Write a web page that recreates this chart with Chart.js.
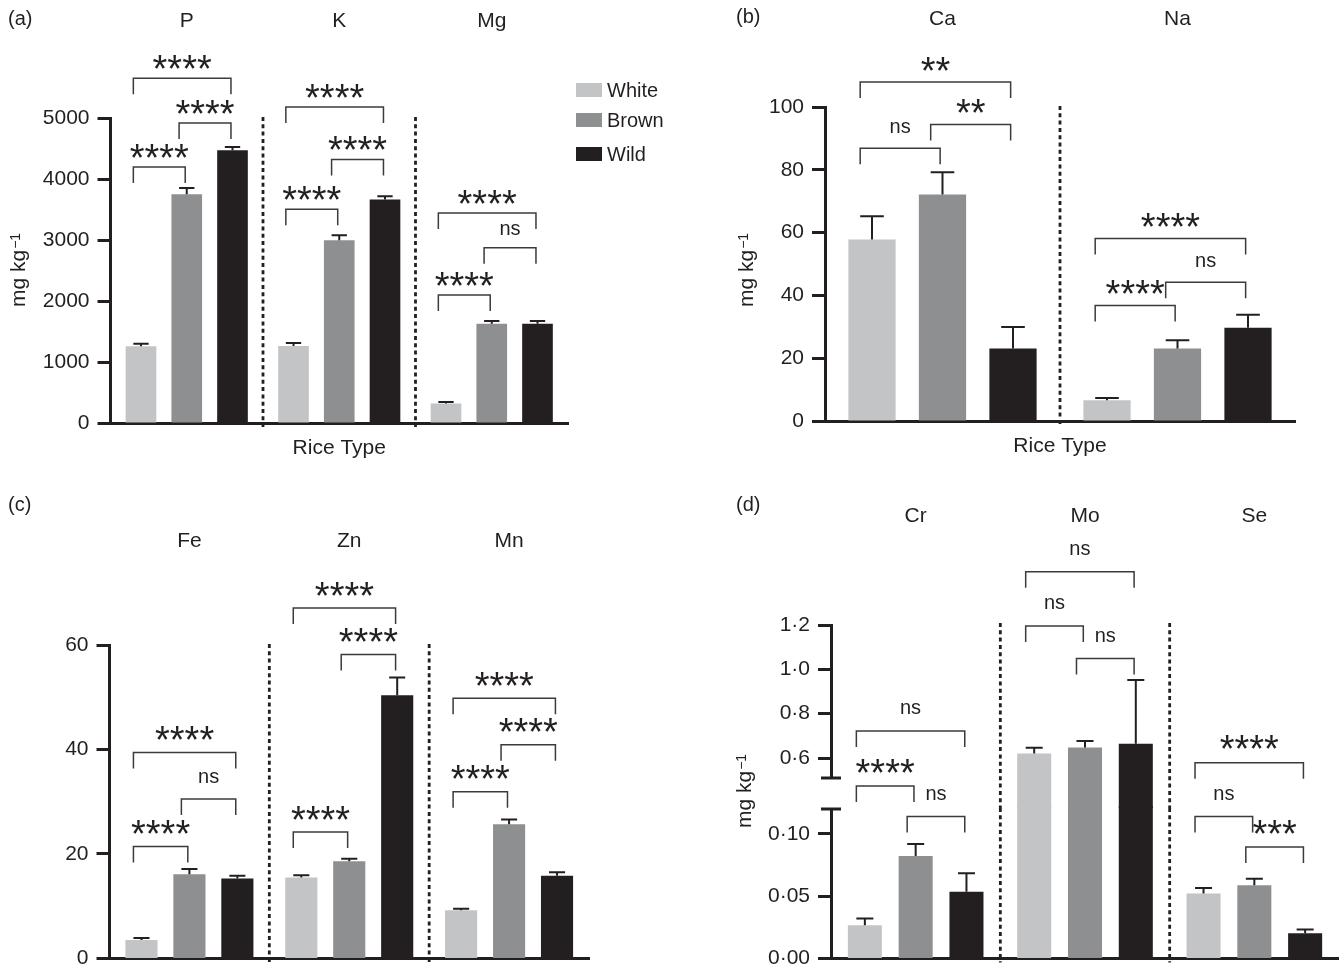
<!DOCTYPE html>
<html>
<head>
<meta charset="utf-8">
<script src="https://cdn.jsdelivr.net/npm/chart.js@4.4.1/dist/chart.umd.min.js"></script>
<style>
  html, body { margin: 0; padding: 0; background: #fff; }
  #fig { position: relative; width: 1339px; height: 979px; overflow: hidden; background: #fff; }
  #fig canvas { position: absolute; }
</style>
</head>
<body>
<div id="fig">
  <canvas id="chartA" width="670" height="480" style="left:0;top:0"></canvas>
  <canvas id="chartB" width="639" height="480" style="left:700px;top:0"></canvas>
  <canvas id="chartC" width="670" height="489" style="left:0;top:490px"></canvas>
  <canvas id="chartDlo" width="639" height="489" style="left:700px;top:490px"></canvas>
  <canvas id="chartDhi" width="639" height="318" style="left:700px;top:490px"></canvas>
</div>
<script>
const riceTypes = ["White", "Brown", "Wild"];

// (a) P, K, Mg  (mg/kg)
const elementsA = ["P", "K", "Mg"];
const whiteA = [1257, 1262, 318];
const brownA = [3749, 2995, 1629];
const wildA = [4470, 3662, 1629];
const whiteErrA = [44, 49, 26];
const brownErrA = [103, 82, 43];
const wildErrA = [55, 54, 43];
const ticksA = [0, 1000, 2000, 3000, 4000, 5000];

// (b) Ca, Na
const elementsB = ["Ca", "Na"];
const whiteB = [57.8, 6.6];
const brownB = [72.1, 23.1];
const wildB = [23.1, 29.7];
const whiteErrB = [7.4, 0.7];
const brownErrB = [7.1, 2.6];
const wildErrB = [6.8, 4.1];
const ticksB = [0, 20, 40, 60, 80, 100];

// (c) Fe, Zn, Mn
const elementsC = ["Fe", "Zn", "Mn"];
const whiteC = [3.5, 15.5, 9.2];
const brownC = [16.1, 18.6, 25.7];
const wildC = [15.3, 50.4, 15.8];
const whiteErrC = [0.4, 0.4, 0.3];
const brownErrC = [1.0, 0.5, 0.9];
const wildErrC = [0.5, 3.4, 0.7];
const ticksC = [0, 20, 40, 60];

// (d) Cr, Mo, Se  (broken axis)
const elementsD = ["Cr", "Mo", "Se"];
const whiteD = [0.0267, 0.621, 0.0522];
const brownD = [0.0822, 0.647, 0.0587];
const wildD = [0.0535, 0.665, 0.0202];
const whiteErrD = [0.0053, 0.025, 0.0044];
const brownErrD = [0.0096, 0.030, 0.0052];
const wildErrD = [0.0149, 0.287, 0.0031];
const ticksDlo = [0, 0.05, 0.10];
const ticksDhi = [0.6, 0.8, 1.0, 1.2];

// significance brackets: [category, fromBar, toBar, level, label]
const bracketsA = [
  [0, 0, 1, 4197, "****"], [0, 1, 2, 4918, "****"], [0, 0, 2, 5651, "****"],
  [1, 0, 1, 3503, "****"], [1, 1, 2, 4318, "****"], [1, 0, 2, 5180, "****"],
  [2, 0, 1, 2098, "****"], [2, 1, 2, 2875, "ns"], [2, 0, 2, 3443, "****"]
];
const bracketsB = [
  [0, 0, 1, 86.9, "ns"], [0, 1, 2, 94.4, "**"], [0, 0, 2, 108, "**"],
  [1, 0, 1, 36.8, "****"], [1, 1, 2, 44.2, "ns"], [1, 0, 2, 58.1, "****"]
];
const bracketsC = [
  [0, 0, 1, 21.4, "****"], [0, 1, 2, 30.5, "ns"], [0, 0, 2, 39.4, "****"],
  [1, 0, 1, 24.2, "****"], [1, 1, 2, 58.2, "****"], [1, 0, 2, 67.1, "****"],
  [2, 0, 1, 31.9, "****"], [2, 1, 2, 40.9, "****"], [2, 0, 2, 49.8, "****"]
];
const bracketsDhi = [
  [0, 0, 2, 0.722, "ns"], [0, 0, 1, 0.474, "****"],
  [1, 0, 1, 1.195, "ns"], [1, 1, 2, 1.049, "ns"], [1, 0, 2, 1.44, "ns"],
  [2, 0, 2, 0.579, "****"]
];
const bracketsDlo = [
  [0, 1, 2, 0.114, "ns"], [2, 0, 1, 0.114, "ns"], [2, 1, 2, 0.0895, "***"]
];

const INK = "#231f20";
const FONT = "'Liberation Sans', Arial, Helvetica, sans-serif";
const fillColors = ["#c3c4c6", "#8e8f91", "#231f20"];
const LEG = 16;

const decor = {};

// rotated "mg kg" with a raised "−1"
function drawUnitTitle(ctx, t) {
  ctx.save();
  ctx.translate(t.x, t.y);
  ctx.rotate(-Math.PI / 2);
  ctx.fillStyle = INK;
  ctx.textAlign = "left";
  ctx.textBaseline = "alphabetic";
  ctx.font = "21px " + FONT;
  ctx.fillText("mg kg", 0, 0);
  const w = ctx.measureText("mg kg").width;
  ctx.font = "14px " + FONT;
  ctx.fillText("\u22121", w + 1, -5);
  ctx.restore();
}

const panelDecor = {
  id: "panelDecor",
  afterDatasetsDraw(chart) {
    const d = decor[chart.canvas.id];
    const ctx = chart.ctx;
    const ys = chart.scales.y;
    ctx.save();
    ctx.strokeStyle = INK;
    ctx.lineWidth = 2;
    d.errors.forEach((errs, k) => {
      const meta = chart.getDatasetMeta(k);
      meta.data.forEach((bar, i) => {
        const v = chart.data.datasets[k].data[i];
        const y0 = ys.getPixelForValue(v);
        const y1 = ys.getPixelForValue(v + errs[i]);
        const cap = bar.width * 0.25;
        ctx.beginPath();
        ctx.moveTo(bar.x, y0);
        ctx.lineTo(bar.x, y1);
        ctx.moveTo(bar.x - cap, y1);
        ctx.lineTo(bar.x + cap, y1);
        ctx.stroke();
      });
    });
    ctx.restore();
  },
  afterDraw(chart) {
    const d = decor[chart.canvas.id];
    const {ctx, chartArea} = chart;
    const xs = chart.scales.x, ys = chart.scales.y;
    ctx.save();

    // dotted separators between elements
    ctx.strokeStyle = INK;
    ctx.lineWidth = 2.8;
    ctx.setLineDash([4, 3.3]);
    for (let i = 0; i < chart.data.labels.length - 1; i++) {
      const x = (xs.getPixelForValue(i) + xs.getPixelForValue(i + 1)) / 2;
      ctx.beginPath();
      ctx.moveTo(x, d.sepTop != null ? d.sepTop : chartArea.top - 1);
      ctx.lineTo(x, d.sepBottom != null ? d.sepBottom : chartArea.bottom + 4);
      ctx.stroke();
    }
    ctx.setLineDash([]);

    ctx.fillStyle = INK;
    // element names
    if (d.catY != null) {
      ctx.font = "21px " + FONT;
      ctx.textAlign = "center";
      ctx.textBaseline = "middle";
      chart.data.labels.forEach((lab, i) => ctx.fillText(lab, xs.getPixelForValue(i), d.catY));
    }
    // panel letter
    if (d.letter) {
      ctx.font = "20px " + FONT;
      ctx.textAlign = "left";
      ctx.textBaseline = "middle";
      ctx.fillText(d.letter[0], d.letter[1], d.letter[2]);
    }

    // significance brackets
    ctx.strokeStyle = "#3b3b3b";
    ctx.lineWidth = 1.5;
    (d.brackets || []).forEach(([cat, a, b, level, label]) => {
      const barA = chart.getDatasetMeta(a).data[cat];
      const barB = chart.getDatasetMeta(b).data[cat];
      const x1 = barA.x - 0.25 * barA.width;
      const x2 = barB.x - 0.05 * barB.width;
      const yy = ys.getPixelForValue(level);
      ctx.beginPath();
      ctx.moveTo(x1, yy + LEG);
      ctx.lineTo(x1, yy);
      ctx.lineTo(x2, yy);
      ctx.lineTo(x2, yy + LEG);
      ctx.stroke();
      const star = label.indexOf("*") >= 0;
      const size = star ? 38 : 20;
      ctx.font = size + "px " + FONT;
      ctx.textAlign = "center";
      ctx.textBaseline = "alphabetic";
      ctx.fillStyle = INK;
      ctx.fillText(label, (x1 + x2) / 2, yy - d.gap + (star ? 0.57 : 0.26) * size);
    });

    // legend
    if (d.legend) {
      ctx.font = "20px " + FONT;
      ctx.textAlign = "left";
      ctx.textBaseline = "middle";
      chart.data.datasets.forEach((ds, k) => {
        const cy = d.legend.ys[k];
        ctx.fillStyle = ds.backgroundColor;
        ctx.fillRect(d.legend.x, cy - 7, 26, 14);
        ctx.fillStyle = INK;
        ctx.fillText(ds.label, d.legend.x + 31, cy + 1);
      });
    }

    // axis break caps
    ctx.strokeStyle = INK;
    ctx.lineWidth = 3;
    if (d.capBottom) {
      ctx.beginPath();
      ctx.moveTo(chartArea.left - 10, chartArea.bottom);
      ctx.lineTo(chartArea.left + 10, chartArea.bottom);
      ctx.stroke();
    }
    if (d.capTop) {
      ctx.beginPath();
      ctx.moveTo(chartArea.left - 10, chartArea.top);
      ctx.lineTo(chartArea.left + 10, chartArea.top);
      ctx.stroke();
    }
    ctx.restore();

    if (d.unitTitle) drawUnitTitle(ctx, d.unitTitle);
  }
};

function buildPanel(canvasId, p) {
  decor[canvasId] = p.decor;
  const series = p.series;
  return new Chart(document.getElementById(canvasId), {
    type: "bar",
    data: {
      labels: p.labels,
      datasets: riceTypes.map((name, k) => ({
        label: name,
        data: series[k],
        backgroundColor: fillColors[k],
        borderWidth: 0,
        categoryPercentage: 0.9,
        barPercentage: 0.67,
        clip: p.clip
      }))
    },
    options: {
      responsive: false,
      animation: false,
      layout: {padding: p.padding},
      plugins: {
        legend: {display: false},
        tooltip: {enabled: false}
      },
      scales: {
        x: {
          display: p.xDisplay !== false,
          afterFit: s => { s.height = p.xHeight; },
          ticks: {display: false},
          grid: {display: true, drawOnChartArea: false, drawTicks: false},
          border: {display: true, width: 3, color: INK},
          title: {
            display: !!p.xTitle,
            text: p.xTitle || "",
            color: INK,
            font: {family: FONT, size: 21},
            padding: {top: 0, bottom: 0}
          }
        },
        y: {
          min: p.yMin,
          max: p.yMax,
          bounds: "data",
          afterFit: s => { s.width = p.yWidth; },
          afterBuildTicks: s => { s.ticks = p.ticks.map(v => ({value: v})); },
          ticks: {
            color: INK,
            font: {family: FONT, size: 21},
            padding: 8,
            callback: p.fmt
          },
          grid: {
            display: true, drawOnChartArea: false, drawTicks: true,
            tickLength: 13, tickWidth: 3, tickColor: INK
          },
          border: {display: true, width: 3, color: INK}
        }
      }
    },
    plugins: [panelDecor]
  });
}

const intFmt = v => String(v);
const dotFmt = digits => v => v.toFixed(digits).replace(".", "\u00b7");

buildPanel("chartA", {
  labels: elementsA,
  series: [whiteA, brownA, wildA],
  yMin: 0, yMax: 5000, ticks: ticksA, fmt: intFmt,
  yWidth: 110.5, xHeight: 38,
  padding: {left: 0, right: 102, top: 118, bottom: 19},
  xTitle: "Rice Type",
  decor: {
    errors: [whiteErrA, brownErrA, wildErrA],
    brackets: bracketsA, gap: 18,
    catY: 21, letter: ["(a)", 8, 19],
    legend: {x: 576, ys: [90, 120, 154]},
    unitTitle: {x: 25, y: 307}
  }
});

buildPanel("chartB", {
  labels: elementsB,
  series: [whiteB, brownB, wildB],
  yMin: 0, yMax: 100, ticks: ticksB, fmt: intFmt,
  yWidth: 125, xHeight: 38,
  padding: {left: 0, right: 44, top: 107, bottom: 21},
  xTitle: "Rice Type",
  decor: {
    errors: [whiteErrB, brownErrB, wildErrB],
    brackets: bracketsB, gap: 20,
    catY: 19, letter: ["(b)", 36, 17],
    unitTitle: {x: 53, y: 307}
  }
});

buildPanel("chartC", {
  labels: elementsC,
  series: [whiteC, brownC, wildC],
  yMin: 0, yMax: 60, ticks: ticksC, fmt: intFmt,
  yWidth: 109.5, xHeight: 5,
  padding: {left: 0, right: 81, top: 155, bottom: 10},
  decor: {
    errors: [whiteErrC, brownErrC, wildErrC],
    brackets: bracketsC, gap: 21,
    catY: 51, letter: ["(c)", 8, 15]
  }
});

// lower part of the broken axis
buildPanel("chartDlo", {
  labels: elementsD,
  series: [whiteD, brownD, wildD],
  yMin: 0, yMax: 0.12, ticks: ticksDlo, fmt: dotFmt(2),
  yWidth: 131, xHeight: 5,
  padding: {left: 0, right: 0, top: 319, bottom: 10.5},
  clip: {left: 0, right: 0, top: 3, bottom: 0},
  decor: {
    errors: [whiteErrD, brownErrD, wildErrD],
    brackets: bracketsDlo, gap: 22,
    sepTop: 318, capTop: true,
    letter: ["(d)", 36, 15],
    unitTitle: {x: 51, y: 338}
  }
});

// upper part of the broken axis
buildPanel("chartDhi", {
  labels: elementsD,
  series: [whiteD, brownD, wildD],
  yMin: 0.51, yMax: 1.2, ticks: ticksDhi, fmt: dotFmt(1),
  yWidth: 131, xHeight: 0, xDisplay: false,
  padding: {left: 0, right: 0, top: 135, bottom: 30},
  clip: {left: 0, right: 0, top: 0, bottom: false},
  decor: {
    errors: [whiteErrD, brownErrD, wildErrD],
    brackets: bracketsDhi, gap: 22,
    sepTop: 133, sepBottom: 318, capBottom: true,
    catY: 26
  }
});
</script>
</body>
</html>
